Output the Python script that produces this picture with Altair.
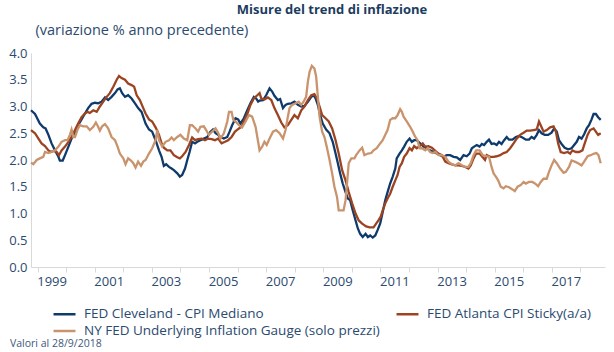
import altair as alt
import pandas as pd

# ---------------- data ----------------
series_names = [
    "FED Cleveland - CPI Mediano",
    "FED Atlanta CPI Sticky(a/a)",
    "NY FED Underlying Inflation Gauge (solo prezzi)",
]
series_colors = ["#0f3b6c", "#9c4422", "#c9946d"]

year_ticks = list(range(1999, 2019))
y_ticks = [0.0, 0.5, 1.0, 1.5, 2.0, 2.5, 3.0, 3.5, 4.0]

cle_year = [1998.77, 1998.91, 1999.08, 1999.20, 1999.28, 1999.38, 1999.49, 1999.61, 1999.73, 1999.78,
            1999.88, 1999.96, 2000.08, 2000.19, 2000.31, 2000.42, 2000.54, 2000.66, 2000.77, 2000.89,
            2001.01, 2001.12, 2001.24, 2001.36, 2001.47, 2001.59, 2001.71, 2001.80, 2001.88, 2001.96,
            2002.06, 2002.17, 2002.29, 2002.41, 2002.52, 2002.64, 2002.78, 2002.90, 2003.01, 2003.13,
            2003.25, 2003.34, 2003.42, 2003.50, 2003.60, 2003.69, 2003.77, 2003.89, 2003.98, 2004.06,
            2004.16, 2004.24, 2004.32, 2004.41, 2004.51, 2004.59, 2004.70, 2004.82, 2004.94, 2005.05,
            2005.14, 2005.23, 2005.32, 2005.40, 2005.52, 2005.64, 2005.72, 2005.81, 2005.93, 2006.02,
            2006.10, 2006.22, 2006.34, 2006.45, 2006.57, 2006.65, 2006.72, 2006.77, 2006.89, 2007.00,
            2007.12, 2007.21, 2007.29, 2007.41, 2007.49, 2007.59, 2007.68, 2007.76, 2007.88, 2007.99,
            2008.11, 2008.23, 2008.34, 2008.46, 2008.58, 2008.66, 2008.73, 2008.81, 2008.89, 2008.98,
            2009.10, 2009.22, 2009.33, 2009.43, 2009.51, 2009.59, 2009.68, 2009.78, 2009.86, 2009.94,
            2010.03, 2010.13, 2010.21, 2010.29, 2010.38, 2010.48, 2010.56, 2010.64, 2010.73, 2010.82,
            2010.90, 2010.99, 2011.08, 2011.17, 2011.25, 2011.34, 2011.43, 2011.52, 2011.57, 2011.67,
            2011.75, 2011.83, 2011.92, 2012.02, 2012.10, 2012.18, 2012.27, 2012.39, 2012.51, 2012.62,
            2012.74, 2012.86, 2012.97, 2013.09, 2013.21, 2013.32, 2013.44, 2013.56, 2013.67, 2013.79,
            2013.91, 2014.02, 2014.12, 2014.20, 2014.28, 2014.37, 2014.47, 2014.55, 2014.63, 2014.72,
            2014.80, 2014.89, 2014.98, 2015.07, 2015.15, 2015.24, 2015.33, 2015.42, 2015.50, 2015.62,
            2015.74, 2015.85, 2015.97, 2016.09, 2016.20, 2016.29, 2016.38, 2016.47, 2016.55, 2016.64,
            2016.75, 2016.87, 2016.99, 2017.08, 2017.17, 2017.25, 2017.34, 2017.45, 2017.57, 2017.69,
            2017.78, 2017.87, 2017.95, 2018.04, 2018.13, 2018.22, 2018.30, 2018.39, 2018.46, 2018.54,
            2018.62, 2018.71]
cle_val = [2.93, 2.86, 2.68, 2.61, 2.59, 2.47, 2.31, 2.18, 2.06, 1.99,
           1.99, 2.09, 2.25, 2.40, 2.53, 2.65, 2.76, 2.87, 2.97, 3.05,
           3.07, 3.06, 3.09, 3.17, 3.12, 3.18, 3.25, 3.32, 3.34, 3.25,
           3.18, 3.21, 3.15, 3.06, 2.97, 2.90, 2.68, 2.57, 2.53, 2.37,
           2.18, 2.06, 1.89, 1.92, 1.87, 1.84, 1.81, 1.75, 1.69, 1.72,
           1.84, 2.00, 2.15, 2.34, 2.31, 2.34, 2.37, 2.40, 2.43, 2.53,
           2.57, 2.50, 2.47, 2.43, 2.40, 2.43, 2.53, 2.65, 2.78, 2.76,
           2.68, 2.78, 2.93, 3.06, 3.18, 3.15, 3.09, 3.11, 3.12, 3.21,
           3.34, 3.28, 3.20, 3.12, 3.14, 2.97, 3.03, 3.05, 3.06, 3.09,
           3.03, 3.00, 3.01, 3.09, 3.18, 3.21, 3.15, 3.03, 2.84, 2.68,
           2.57, 2.50, 2.34, 2.12, 1.94, 1.75, 1.56, 1.40, 1.28, 1.25,
           1.06, 0.87, 0.72, 0.62, 0.56, 0.62, 0.56, 0.59, 0.55, 0.59,
           0.69, 0.81, 1.03, 1.25, 1.40, 1.56, 1.69, 1.84, 2.03, 2.12,
           2.18, 2.25, 2.34, 2.40, 2.34, 2.37, 2.37, 2.31, 2.25, 2.22,
           2.18, 2.15, 2.12, 2.09, 2.06, 2.09, 2.09, 2.06, 2.05, 2.00,
           2.09, 2.07, 2.12, 2.22, 2.25, 2.28, 2.25, 2.30, 2.28, 2.34,
           2.38, 2.30, 2.31, 2.28, 2.34, 2.30, 2.37, 2.43, 2.38, 2.38,
           2.43, 2.45, 2.42, 2.38, 2.38, 2.43, 2.40, 2.47, 2.56, 2.50,
           2.47, 2.47, 2.51, 2.59, 2.53, 2.37, 2.30, 2.23, 2.20, 2.22,
           2.28, 2.34, 2.43, 2.40, 2.48, 2.59, 2.65, 2.76, 2.86, 2.86,
           2.80, 2.75]

atl_year = [1998.77, 1998.91, 1999.03, 1999.14, 1999.26, 1999.38, 1999.47, 1999.55, 1999.67, 1999.75,
            1999.84, 1999.96, 2000.08, 2000.19, 2000.31, 2000.42, 2000.54, 2000.66, 2000.75, 2000.83,
            2000.95, 2001.07, 2001.18, 2001.30, 2001.42, 2001.53, 2001.65, 2001.77, 2001.85, 2001.94,
            2002.06, 2002.17, 2002.29, 2002.38, 2002.47, 2002.58, 2002.70, 2002.78, 2002.90, 2003.01,
            2003.13, 2003.25, 2003.34, 2003.42, 2003.54, 2003.65, 2003.77, 2003.89, 2003.98, 2004.06,
            2004.18, 2004.30, 2004.41, 2004.51, 2004.62, 2004.74, 2004.86, 2004.97, 2005.09, 2005.21,
            2005.32, 2005.44, 2005.56, 2005.67, 2005.79, 2005.91, 2006.05, 2006.14, 2006.22, 2006.34,
            2006.45, 2006.57, 2006.69, 2006.77, 2006.83, 2006.94, 2007.06, 2007.18, 2007.29, 2007.41,
            2007.53, 2007.64, 2007.76, 2007.88, 2007.99, 2008.11, 2008.23, 2008.34, 2008.46, 2008.58,
            2008.69, 2008.78, 2008.87, 2008.96, 2009.08, 2009.19, 2009.31, 2009.43, 2009.54, 2009.66,
            2009.78, 2009.89, 2010.01, 2010.13, 2010.24, 2010.36, 2010.50, 2010.62, 2010.76, 2010.85,
            2010.93, 2011.01, 2011.08, 2011.17, 2011.25, 2011.34, 2011.43, 2011.52, 2011.60, 2011.67,
            2011.75, 2011.83, 2011.92, 2012.02, 2012.10, 2012.18, 2012.27, 2012.37, 2012.48, 2012.57,
            2012.68, 2012.80, 2012.92, 2013.03, 2013.15, 2013.27, 2013.38, 2013.50, 2013.62, 2013.73,
            2013.85, 2013.97, 2014.08, 2014.16, 2014.26, 2014.35, 2014.47, 2014.58, 2014.66, 2014.72,
            2014.84, 2014.96, 2015.07, 2015.19, 2015.31, 2015.42, 2015.54, 2015.66, 2015.77, 2015.89,
            2016.01, 2016.12, 2016.24, 2016.36, 2016.47, 2016.55, 2016.61, 2016.71, 2016.82, 2016.94,
            2017.06, 2017.14, 2017.22, 2017.31, 2017.43, 2017.55, 2017.64, 2017.72, 2017.84, 2017.95,
            2018.07, 2018.15, 2018.25, 2018.34, 2018.46, 2018.54, 2018.62, 2018.71]
atl_val = [2.56, 2.50, 2.40, 2.31, 2.26, 2.18, 2.15, 2.17, 2.15, 2.09,
           2.18, 2.25, 2.34, 2.43, 2.56, 2.68, 2.80, 2.87, 2.90, 2.88,
           2.93, 2.90, 3.00, 3.09, 3.18, 3.25, 3.37, 3.50, 3.57, 3.53,
           3.50, 3.43, 3.40, 3.37, 3.21, 3.12, 2.97, 2.87, 2.76, 2.72,
           2.61, 2.47, 2.31, 2.23, 2.18, 2.18, 2.09, 2.05, 2.03, 2.07,
           2.15, 2.28, 2.42, 2.37, 2.39, 2.40, 2.37, 2.40, 2.39, 2.37,
           2.40, 2.31, 2.34, 2.37, 2.43, 2.53, 2.59, 2.62, 2.72, 2.86,
           3.03, 3.15, 3.21, 3.25, 3.15, 3.13, 3.17, 3.12, 2.97, 2.84,
           2.70, 2.61, 2.65, 2.75, 2.84, 2.78, 2.93, 3.00, 3.12, 3.21,
           3.23, 3.15, 3.00, 2.84, 2.78, 2.72, 2.59, 2.37, 2.12, 1.81,
           1.62, 1.40, 1.19, 1.00, 0.87, 0.81, 0.76, 0.74, 0.74, 0.81,
           0.87, 0.94, 1.06, 1.19, 1.28, 1.37, 1.50, 1.62, 1.72, 1.87,
           1.94, 2.06, 2.12, 2.22, 2.18, 2.26, 2.22, 2.26, 2.31, 2.25,
           2.26, 2.23, 2.17, 2.12, 2.09, 1.97, 1.94, 1.92, 1.90, 1.90,
           1.89, 1.87, 1.84, 1.90, 2.03, 2.12, 2.12, 2.05, 2.00, 2.09,
           2.06, 2.06, 2.07, 2.09, 2.13, 2.15, 2.22, 2.31, 2.40, 2.47,
           2.51, 2.55, 2.55, 2.56, 2.57, 2.72, 2.65, 2.53, 2.56, 2.61,
           2.63, 2.53, 2.31, 2.15, 2.13, 2.15, 2.12, 2.18, 2.15, 2.15,
           2.18, 2.31, 2.47, 2.56, 2.59, 2.53, 2.47, 2.50]

ny_year = [1998.77, 1998.85, 1998.97, 1999.08, 1999.20, 1999.26, 1999.38, 1999.49, 1999.61, 1999.73,
           1999.84, 1999.96, 2000.05, 2000.13, 2000.19, 2000.25, 2000.31, 2000.40, 2000.48, 2000.60,
           2000.72, 2000.83, 2000.95, 2001.04, 2001.12, 2001.18, 2001.26, 2001.36, 2001.47, 2001.59,
           2001.71, 2001.80, 2001.88, 2002.00, 2002.08, 2002.17, 2002.27, 2002.35, 2002.43, 2002.52,
           2002.62, 2002.70, 2002.78, 2002.90, 2003.01, 2003.13, 2003.19, 2003.25, 2003.36, 2003.48,
           2003.60, 2003.69, 2003.77, 2003.89, 2004.00, 2004.12, 2004.24, 2004.33, 2004.41, 2004.53,
           2004.62, 2004.70, 2004.82, 2004.91, 2004.99, 2005.11, 2005.23, 2005.32, 2005.40, 2005.52,
           2005.64, 2005.70, 2005.79, 2005.85, 2005.93, 2006.05, 2006.16, 2006.28, 2006.40, 2006.51,
           2006.63, 2006.71, 2006.77, 2006.86, 2006.94, 2007.02, 2007.12, 2007.24, 2007.35, 2007.47,
           2007.59, 2007.68, 2007.76, 2007.82, 2007.91, 2008.03, 2008.14, 2008.23, 2008.31, 2008.40,
           2008.46, 2008.52, 2008.60, 2008.69, 2008.75, 2008.81, 2008.87, 2008.96, 2009.04, 2009.12,
           2009.22, 2009.31, 2009.39, 2009.48, 2009.54, 2009.63, 2009.71, 2009.78, 2009.84, 2009.89,
           2009.98, 2010.09, 2010.15, 2010.27, 2010.36, 2010.44, 2010.56, 2010.68, 2010.76, 2010.87,
           2010.99, 2011.08, 2011.17, 2011.25, 2011.34, 2011.43, 2011.52, 2011.60, 2011.69, 2011.75,
           2011.81, 2011.92, 2012.04, 2012.13, 2012.22, 2012.30, 2012.37, 2012.45, 2012.57, 2012.65,
           2012.74, 2012.83, 2012.92, 2013.03, 2013.15, 2013.27, 2013.38, 2013.50, 2013.62, 2013.73,
           2013.85, 2013.97, 2014.08, 2014.16, 2014.26, 2014.35, 2014.47, 2014.58, 2014.70, 2014.80,
           2014.89, 2014.96, 2015.04, 2015.12, 2015.21, 2015.31, 2015.39, 2015.50, 2015.62, 2015.70,
           2015.80, 2015.91, 2016.01, 2016.09, 2016.20, 2016.32, 2016.44, 2016.52, 2016.61, 2016.71,
           2016.82, 2016.90, 2016.99, 2017.08, 2017.17, 2017.29, 2017.41, 2017.49, 2017.60, 2017.69,
           2017.80, 2017.92, 2018.04, 2018.13, 2018.25, 2018.36, 2018.48, 2018.56, 2018.63, 2018.71]
ny_val = [1.95, 1.92, 2.00, 2.03, 2.06, 2.15, 2.13, 2.15, 2.18, 2.25,
          2.34, 2.37, 2.37, 2.47, 2.57, 2.43, 2.43, 2.57, 2.65, 2.63,
          2.63, 2.56, 2.62, 2.70, 2.62, 2.55, 2.63, 2.67, 2.59, 2.43,
          2.37, 2.25, 2.12, 2.03, 1.92, 2.03, 1.99, 1.94, 1.86, 1.97,
          1.89, 1.97, 2.00, 2.12, 2.22, 2.37, 2.56, 2.37, 2.25, 2.34,
          2.37, 2.42, 2.37, 2.43, 2.47, 2.40, 2.37, 2.65, 2.65, 2.59,
          2.53, 2.62, 2.63, 2.55, 2.47, 2.53, 2.59, 2.51, 2.40, 2.50,
          2.72, 2.90, 2.90, 2.75, 2.72, 2.65, 2.61, 2.72, 2.84, 2.81,
          2.62, 2.37, 2.18, 2.25, 2.34, 2.28, 2.40, 2.53, 2.56, 2.50,
          2.40, 2.56, 2.81, 2.97, 3.03, 3.06, 3.09, 3.03, 3.09, 3.18,
          3.46, 3.65, 3.76, 3.71, 3.56, 3.18, 2.81, 2.53, 2.43, 2.25,
          2.00, 1.75, 1.50, 1.31, 1.06, 1.06, 1.06, 1.25, 1.62, 1.94,
          2.03, 2.03, 2.09, 2.18, 2.23, 2.09, 2.12, 2.13, 2.18, 2.22,
          2.31, 2.37, 2.47, 2.56, 2.75, 2.78, 2.78, 2.84, 2.95, 2.90,
          2.81, 2.72, 2.62, 2.53, 2.43, 2.37, 2.22, 2.22, 2.18, 2.22,
          2.15, 2.13, 2.15, 2.09, 2.09, 2.06, 1.97, 1.92, 1.90, 1.94,
          1.90, 1.87, 1.87, 1.94, 2.09, 2.18, 2.18, 2.09, 2.07, 2.06,
          1.87, 1.75, 1.69, 1.62, 1.50, 1.47, 1.51, 1.49, 1.45, 1.42,
          1.50, 1.53, 1.59, 1.56, 1.59, 1.59, 1.55, 1.51, 1.59, 1.65,
          1.65, 1.78, 1.90, 2.00, 1.94, 1.84, 1.76, 1.78, 1.87, 1.99,
          1.97, 1.94, 1.90, 1.97, 2.07, 2.09, 2.12, 2.13, 2.09, 1.94]

title_text = "Misure del trend di inflazione"
subtitle_text = "(variazione % anno precedente)"
footnote_text = "Valori al 28/9/2018"

# ---------------- table ----------------
rows = []
for name, ts, vs in zip(series_names, [cle_year, atl_year, ny_year], [cle_val, atl_val, ny_val]):
    for i, (t, v) in enumerate(zip(ts, vs)):
        rows.append({"serie": name, "anno": t, "valore": v, "ord": i})
df = pd.DataFrame(rows)

FONT = "Open Sans"
TXT = "#2b4a6f"
AXC = "#d9d9d9"

lines = alt.Chart(df).mark_line(strokeWidth=2.3).encode(
    x=alt.X(
        "anno:Q",
        scale=alt.Scale(domain=[1998.77, 2018.86], nice=False, zero=False),
        axis=alt.Axis(
            values=year_ticks,
            labelExpr="datum.value % 2 == 1 ? '' + datum.value : ''",
            labelOffset=14,
            labelFlush=False,
            labelOverlap=False,
            tickSize=5,
            tickColor=AXC,
            domainColor=AXC,
            grid=False,
            title=None,
            labelPadding=3,
            labelFontSize=13,
            labelFont=FONT,
            labelColor=TXT,
        ),
    ),
    y=alt.Y(
        "valore:Q",
        scale=alt.Scale(domain=[0, 4], nice=False),
        axis=alt.Axis(
            values=y_ticks,
            format=".1f",
            ticks=False,
            grid=False,
            domainColor=AXC,
            labelPadding=4,
            labelFontSize=13,
            labelFont=FONT,
            labelColor=TXT,
            title=subtitle_text,
            titleAngle=0,
            titleAlign="left",
            titleBaseline="middle",
            titleX=4,
            titleY=-23,
            titleFontWeight="normal",
            titleFontSize=14.5,
            titleFont=FONT,
            titleColor=TXT,
        ),
    ),
    color=alt.Color(
        "serie:N",
        scale=alt.Scale(domain=series_names, range=series_colors),
        sort=series_names,
        legend=alt.Legend(
            title=None,
            orient="none",
            legendX=21,
            legendY=254,
            columns=2,
            direction="horizontal",
            symbolType="M-1,0H3",
            symbolSize=121,
            symbolStrokeWidth=2.5,
            labelFontSize=13.5,
            labelFont=FONT,
            labelColor=TXT,
            labelLimit=0,
            labelOffset=18,
            columnPadding=11,
            rowPadding=3,
        ),
    ),
    order="ord:Q",
)

foot = alt.Chart(pd.DataFrame({"t": [footnote_text]})).mark_text(
    align="left", baseline="middle", fontSize=10.5, font=FONT, color="#3d5a7a"
).encode(text="t:N", x=alt.value(-21), y=alt.value(291))

chart = alt.layer(lines, foot).properties(
    width=574,
    height=214,
    padding={"left": 31, "top": 53, "right": 9, "bottom": 85},
    autosize=alt.AutoSizeParams(type="none"),
    title=alt.TitleParams(
        text=title_text,
        anchor="middle",
        fontSize=13,
        fontWeight="bold",
        font=FONT,
        color="#1d3c5e",
        dx=14,
        dy=-1,
    ),
).configure_view(stroke=None)

chart.save("out.html", embed_options={"renderer": "svg", "actions": False})
